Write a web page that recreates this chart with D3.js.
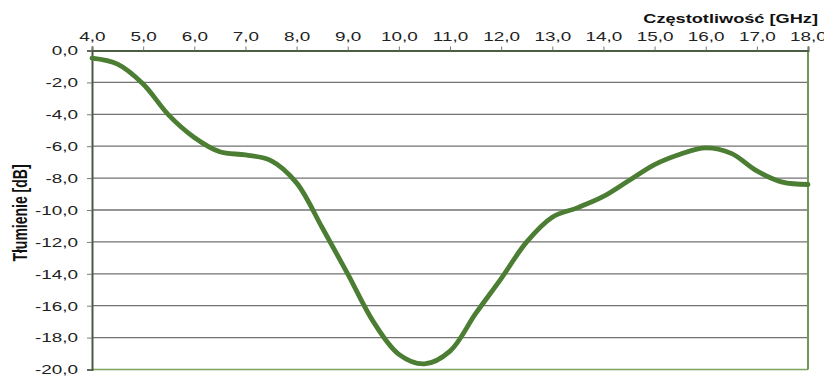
<!DOCTYPE html>
<html>
<head>
<meta charset="utf-8">
<script src="https://cdn.jsdelivr.net/npm/d3@7"></script>
<style>
  body { margin: 0; background: #fff; }
  svg { display: block; font-family: "Liberation Sans", Arial, sans-serif; }
</style>
</head>
<body>
<svg id="chart" width="824" height="376"></svg>
<script>
// frequency [GHz] and attenuation [dB]
var freq = [4.0, 4.5, 5.0, 5.5, 6.0, 6.5, 7.0, 7.5, 8.0, 8.5, 9.0, 9.5, 10.0, 10.5, 11.0, 11.5, 12.0, 12.5, 13.0, 13.5, 14.0, 14.5, 15.0, 15.5, 16.0, 16.5, 17.0, 17.5, 18.0];
var atten = [-0.48, -0.85, -2.1, -4.05, -5.45, -6.35, -6.55, -6.9, -8.3, -11.1, -14.0, -17.0, -19.05, -19.65, -18.85, -16.5, -14.3, -12.0, -10.45, -9.85, -9.15, -8.15, -7.15, -6.5, -6.1, -6.45, -7.55, -8.25, -8.4];
var xTicks = [4, 5, 6, 7, 8, 9, 10, 11, 12, 13, 14, 15, 16, 17, 18];
var yTicks = [0, -2, -4, -6, -8, -10, -12, -14, -16, -18, -20];

var svg = d3.select("#chart");
var plotLeft = 92, plotRight = 808, plotTop = 50.5, plotBottom = 369.5;
var sx = 1.4; // the reference's text is stretched sideways

var x = d3.scaleLinear().domain([4, 18]).range([plotLeft, plotRight]);
var y = d3.scaleLinear().domain([0, -20]).range([plotTop, plotBottom]);

var fmt = function(d) { return d3.format(".1f")(d).replace(".", ",").replace("−", "-"); };

// horizontal grid lines
svg.append("g")
  .selectAll("line")
  .data(yTicks.slice(1, -1))
  .enter()
  .append("line")
    .attr("x1", plotLeft).attr("x2", plotRight)
    .attr("y1", function(d) { return y(d); })
    .attr("y2", function(d) { return y(d); })
    .attr("stroke", "#727272")
    .attr("stroke-width", 1.3);

// frame: bottom and right in green
svg.append("line")
  .attr("x1", plotLeft).attr("x2", plotRight).attr("y1", plotBottom).attr("y2", plotBottom)
  .attr("stroke", "#7aa35e").attr("stroke-width", 1.5);
svg.append("line")
  .attr("x1", plotRight).attr("x2", plotRight).attr("y1", plotTop).attr("y2", plotBottom)
  .attr("stroke", "#6f9a55").attr("stroke-width", 2);

// top x axis
var gx = svg.append("g")
  .attr("transform", "translate(0," + plotTop + ")")
  .call(d3.axisTop(x).tickValues(xTicks).tickFormat(fmt).tickSize(4).tickPadding(6));
gx.select(".domain").attr("stroke", "#4d5c44").attr("stroke-width", 2);
gx.selectAll(".tick line").attr("stroke", "#7a7a7a");
gx.selectAll(".tick text")
  .attr("font-size", 13.5)
  .attr("font-family", "Liberation Sans, Arial, sans-serif")
  .attr("fill", "#222")
  .attr("transform", "scale(" + sx + ",1)");

// left y axis
var gy = svg.append("g")
  .attr("transform", "translate(" + plotLeft + ",0)")
  .call(d3.axisLeft(y).tickValues(yTicks).tickFormat(fmt).tickSize(5).tickPadding(6));
gy.select(".domain").attr("stroke", "#4b5a43").attr("stroke-width", 2);
gy.selectAll(".tick line").attr("stroke", "#7a7a7a");
gy.selectAll(".tick text")
  .attr("x", -14 / sx)
  .attr("font-size", 13.5)
  .attr("font-family", "Liberation Sans, Arial, sans-serif")
  .attr("fill", "#222")
  .attr("transform", "scale(" + sx + ",1)");

// axis titles
svg.append("text")
  .attr("transform", "translate(818,23) scale(" + sx + ",1)")
  .attr("text-anchor", "end")
  .attr("font-size", 13)
  .attr("font-weight", "bold")
  .attr("fill", "#111")
  .text("Częstotliwość [GHz]");

svg.append("text")
  .attr("transform", "translate(27,213) scale(" + sx + ",1) rotate(-90)")
  .attr("text-anchor", "middle")
  .attr("font-size", 14)
  .attr("fill", "#111")
  .attr("font-weight", "bold")
  .text("Tłumienie [dB]");

// the curve
var line = d3.line()
  .x(function(d, i) { return x(freq[i]); })
  .y(function(d) { return y(d); })
  .curve(d3.curveCatmullRom.alpha(0.5));

svg.append("path")
  .datum(atten)
  .attr("d", line)
  .attr("fill", "none")
  .attr("stroke", "#4b7d33")
  .attr("stroke-width", 4.8)
  .attr("stroke-linecap", "round");
</script>
</body>
</html>
